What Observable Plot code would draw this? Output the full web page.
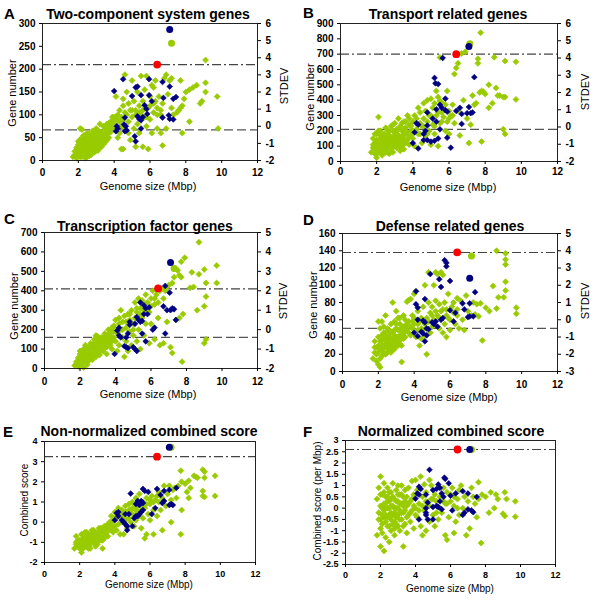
<!DOCTYPE html>
<html><head><meta charset="utf-8">
<script src="https://cdn.jsdelivr.net/npm/d3@7"></script>
<script src="https://cdn.jsdelivr.net/npm/@observablehq/plot@0.6"></script>
<style>
body{margin:0;background:#fff;font-family:"Liberation Sans",Arial,sans-serif}
#root{position:relative;width:600px;height:600px;overflow:hidden;background:#fff}
.t{position:absolute;white-space:nowrap;color:#000;line-height:1}
.title{font-weight:bold;font-size:14px;transform:translate(-50%,-50%)}
.letter{font-weight:bold;font-size:15px;transform:translate(0,-50%)}
.ax{transform:translate(-50%,-50%)}
.axv{transform:translate(-50%,-50%) rotate(-90deg)}
.plot{position:absolute}
</style></head><body><div id="root"></div>
<script>
// ---------- shared ----------
const xTicks = [0, 2, 4, 6, 8, 10, 12];
const xLabel = "Genome size (Mbp)";

// ---------- A: Two-component system genes ----------
const yTicksA = [0, 50, 100, 150, 200, 250, 300];
const stdevA = [-2, -1, 0, 1, 2, 3, 4, 5, 6];
const meanA = 67, thrA = 210;
const redA = [6.4, 210], bigBlueA = [7.1, 287], bigGreenA = [7.2, 257];
const greenA = [[1.7,8],[1.8,12],[1.9,5],[1.9,18],[2.0,10],[2.0,25],[2.1,15],[2.1,30],[2.2,8],[2.2,20],[2.2,38],[2.3,12],[2.3,28],[2.3,45],[2.4,5],[2.4,22],[2.4,35],[2.5,15],[2.5,30],[2.5,48],[2.6,10],[2.6,25],[2.6,40],[2.7,20],[2.7,35],[2.7,55],[2.8,18],[2.8,30],[2.8,45],[2.9,25],[2.9,40],[2.9,60],[3.0,30],[3.0,48],[3.0,70],[3.1,22],[3.1,38],[3.1,55],[3.2,35],[3.2,50],[3.3,30],[3.3,62],[3.4,45],[3.4,75],[3.5,40],[3.5,55],[3.6,60],[3.6,80],[3.7,50],[3.7,70],[3.8,85],[3.8,62],[3.9,75],[3.9,95],[2.1,70],[2.2,68],[2.5,60],[2.0,35],[2.3,55],[2.6,50],[2.8,65],[3.0,40],[3.2,80],[3.3,45],
[1.8,20],[1.9,28],[2.0,15],[2.0,42],[2.1,8],[2.1,22],[2.1,45],[2.2,12],[2.2,30],[2.2,50],[2.3,18],[2.3,35],[2.4,12],[2.4,28],[2.4,42],[2.4,55],[2.5,8],[2.5,22],[2.5,38],[2.6,18],[2.6,32],[2.6,58],[2.7,12],[2.7,28],[2.7,42],[2.8,24],[2.8,38],[2.8,52],[2.9,18],[2.9,32],[2.9,48],[3.0,22],[3.0,36],[3.0,58],[3.1,30],[3.1,46],[3.1,65],[3.2,28],[3.2,42],[3.2,62],[3.3,38],[3.3,52],[3.4,36],[3.4,55],[3.5,48],[3.5,68],[3.6,45],[3.6,70],[3.7,60],[3.7,82],[3.8,72],[3.9,85],[4.0,70],[4.0,95],[4.2,88],[4.3,60],[4.4,75],[4.5,90],[4.6,70],[4.8,85],[5.0,110],[5.2,100],[5.4,105],[5.6,110],[5.8,95],[6.0,120],[6.2,125],[6.4,115],[6.6,100],
[4.0,80],[4.1,90],[4.1,140],[4.2,100],[4.2,50],[4.3,110],[4.3,85],[4.4,25],[4.4,95],[4.5,25],[4.5,120],[4.5,135],[4.6,188],[4.6,105],[4.7,150],[4.7,100],[4.8,125],[4.8,60],[4.9,45],[4.9,110],[5.0,175],[5.0,95],[5.1,130],[5.1,70],[5.2,30],[5.2,110],[5.3,150],[5.3,80],[5.4,120],[5.4,60],[5.5,185],[5.5,100],[5.6,30],[5.6,130],[5.7,95],[5.7,155],[5.8,185],[5.8,75],[5.9,25],[5.9,115],[6.0,140],[6.0,90],[6.1,165],[6.1,60],[6.2,105],[6.2,160],[6.3,175],[6.3,130],[6.4,100],[6.4,70],[6.5,140],[6.6,110],[6.6,60],[6.7,33],[6.7,125],[6.8,180],[6.9,188],[6.9,70],[7.0,145],[7.1,175],[7.2,180],[7.2,115],[7.3,100],
[7.5,105],[7.6,110],[7.7,115],[7.7,175],[7.8,120],[7.8,60],[7.9,135],[8.0,150],[8.2,155],[8.2,85],[8.4,160],[8.6,165],[8.8,125],[8.9,130],[9.1,150],[9.1,170],[9.1,220],[9.75,140],[9.8,70]];
const blueA = [[4.0,152],[4.5,178],[5.2,160],[5.3,162],[5.0,141],[5.5,143],[5.95,178],[5.95,143],[6.1,130],[6.7,172],[7.1,162],[7.3,135],[7.45,139],[6.75,137],[6.7,94],[7.05,99],[7.1,91],[7.3,90],[5.7,121],[5.8,113],[5.3,97],[5.4,91],[5.6,95],[5.5,88],[5.85,102],[4.15,75],[4.1,64],[4.55,79],[4.65,75],[4.7,66],[4.6,64],[5.15,53],[5.2,42],[5.5,70],[4.2,70],[4.6,94]];

// ---------- B: Transport related genes ----------
const yTicksB = [0, 100, 200, 300, 400, 500, 600, 700, 800, 900];
const stdevB = [-2, -1, 0, 1, 2, 3, 4, 5, 6];
const meanB = 210, thrB = 700;
const redB = [6.4, 700], bigBlueB = [7.1, 750], bigGreenB = [7.15, 768];
const greenB = [[1.7,60],[1.8,90],[1.8,150],[1.9,50],[1.9,120],[2.0,25],[2.0,80],[2.0,180],[2.1,290],[2.1,110],[2.1,60],[2.2,140],[2.2,200],[2.2,90],[2.3,40],[2.3,120],[2.3,170],[2.4,70],[2.4,100],[2.4,150],[2.5,60],[2.5,130],[2.5,220],[2.6,90],[2.6,110],[2.6,170],[2.7,50],[2.7,140],[2.7,200],[2.8,80],[2.8,120],[2.8,230],[2.9,100],[2.9,160],[2.9,60],[3.0,130],[3.0,190],[3.0,250],[3.1,90],[3.1,150],[3.1,210],[3.2,110],[3.2,280],[3.2,170],[3.3,70],[3.3,130],[3.3,230],[3.4,100],[3.4,200],[3.4,160],[3.5,120],[3.5,260],[3.5,80],[3.6,180],[3.6,220],[3.7,140],[3.7,300],[3.8,110],[3.8,240],[3.9,170],[3.9,200],[2.0,140],[2.3,80],[2.6,140],[2.9,200],[3.2,140],[3.5,180],
[1.8,110],[1.9,80],[1.9,180],[2.0,110],[2.0,50],[2.1,140],[2.1,200],[2.2,60],[2.2,110],[2.2,170],[2.3,100],[2.3,140],[2.4,120],[2.4,180],[2.4,60],[2.5,90],[2.5,160],[2.6,60],[2.6,200],[2.7,100],[2.7,170],[2.8,150],[2.8,100],[2.9,130],[2.9,240],[3.0,100],[3.0,160],[3.1,120],[3.1,180],[3.2,140],[3.2,210],[3.3,160],[3.3,100],[3.4,130],[3.4,250],[3.5,150],[3.5,210],[3.6,120],[3.6,260],[3.7,190],[3.8,160],[3.8,280],[3.9,230],[4.0,200],[4.2,280],[4.4,180],[4.6,230],[4.8,180],[5.0,300],[5.2,230],[5.4,320],[5.6,260],[5.8,370],[6.0,280],[6.2,300],
[4.0,260],[4.0,150],[4.1,300],[4.1,100],[4.2,210],[4.3,350],[4.3,180],[4.4,320],[4.4,250],[4.5,230],[4.5,120],[4.6,380],[4.6,280],[4.7,170],[4.7,330],[4.8,400],[4.8,260],[4.9,200],[4.9,300],[5.0,410],[5.0,110],[5.1,350],[5.1,240],[5.2,380],[5.2,180],[5.3,460],[5.3,300],[5.4,420],[5.4,100],[5.5,395],[5.5,250],[5.5,678],[5.6,385],[5.6,320],[5.7,290],[5.8,200],[5.9,460],[5.9,260],[6.0,330],[6.0,180],[6.1,300],[6.2,370],[6.3,570],[6.3,250],[6.4,610],[6.5,640],[6.5,330],[6.6,170],[6.7,705],[6.8,400],[6.9,715],[7.0,280],[7.1,120],[7.2,240],[7.3,430],[7.4,370],[7.5,380],[7.6,670],[7.6,640],[7.7,450],[7.75,840],[7.8,460],[7.8,130],[7.9,455],[8.0,440],[8.2,500],[8.2,350],[8.4,380],[8.5,680],[8.6,480],[8.7,430],[8.8,430],[9.0,420],[9.0,210],[9.1,420],[9.1,655],[9.1,180],[9.7,650],[9.7,405]];
const blueB = [[5.65,675],[5.2,545],[5.25,510],[5.4,505],[7.4,550],[5.8,410],[5.3,340],[5.5,370],[5.6,350],[5.8,335],[5.9,325],[6.6,350],[7.1,355],[7.0,315],[7.2,315],[7.3,320],[6.4,330],[6.7,310],[6.7,245],[4.2,250],[4.3,240],[4.1,190],[4.6,180],[4.7,200],[4.8,235],[5.1,280],[4.8,320],[5.9,155],[6.1,90],[4.3,85],[4.0,120],[4.6,140],[4.8,140],[5.0,130],[5.2,135],[5.4,150],[5.3,260],[5.5,210]];

// ---------- C: Transcription factor genes ----------
const yTicksC = [0, 100, 200, 300, 400, 500, 600, 700];
const stdevC = [-2, -1, 0, 1, 2, 3, 4, 5];
const meanC = 160, thrC = 410;
const redC = [6.4, 412], bigBlueC = [7.1, 545], bigGreenC = [7.3, 515];
const greenC = [[1.7,15],[1.8,25],[1.9,40],[1.9,10],[2.0,60],[2.0,30],[2.0,90],[2.1,20],[2.1,50],[2.1,75],[2.2,40],[2.2,100],[2.2,5],[2.3,30],[2.3,65],[2.3,120],[2.4,50],[2.4,85],[2.4,20],[2.5,70],[2.5,110],[2.5,40],[2.6,60],[2.6,95],[2.6,130],[2.7,45],[2.7,80],[2.7,120],[2.8,70],[2.8,105],[2.8,150],[2.9,60],[2.9,95],[2.9,170],[3.0,80],[3.0,130],[3.0,165],[3.1,100],[3.1,145],[3.1,70],[3.2,120],[3.2,160],[3.3,90],[3.3,140],[3.4,110],[3.4,180],[3.5,130],[3.5,75],[3.6,150],[3.6,200],[3.7,120],[3.7,170],[3.8,190],[3.8,100],[3.9,160],[3.9,220],[2.2,70],[2.5,90],[2.8,120],[3.1,120],[3.3,110],
[1.8,35],[1.9,55],[2.0,45],[2.0,75],[2.1,35],[2.1,60],[2.2,55],[2.2,85],[2.3,45],[2.3,80],[2.4,70],[2.4,100],[2.5,55],[2.5,85],[2.6,75],[2.6,110],[2.7,65],[2.7,100],[2.8,85],[2.8,130],[2.9,80],[2.9,120],[3.0,100],[3.0,145],[3.1,85],[3.1,130],[3.2,105],[3.2,140],[3.3,120],[3.3,160],[3.4,130],[3.4,150],[3.5,110],[3.5,160],[3.6,130],[3.6,175],[3.7,150],[3.8,140],[3.8,210],[3.9,190],[4.0,200],[4.2,230],[4.4,200],[4.6,240],[4.8,280],[5.0,200],[5.2,310],[5.4,280],[5.6,330],[5.8,300],[6.0,320],[6.2,360],[6.4,340],
[4.0,140],[4.0,250],[4.1,90],[4.1,180],[4.2,260],[4.2,120],[4.3,200],[4.3,300],[4.4,160],[4.4,240],[4.5,270],[4.5,60],[4.6,210],[4.6,140],[4.7,280],[4.7,90],[4.8,250],[4.8,190],[4.9,300],[4.9,120],[5.0,230],[5.0,170],[5.1,340],[5.1,260],[5.2,290],[5.2,140],[5.3,360],[5.3,200],[5.4,310],[5.4,100],[5.5,260],[5.5,350],[5.6,300],[5.6,170],[5.7,380],[5.7,230],[5.8,340],[5.9,290],[5.9,130],[6.0,360],[6.0,230],[6.1,400],[6.2,330],[6.2,150],[6.3,380],[6.4,260],[6.5,400],[6.5,120],[6.6,410],[6.7,130],[6.7,360],[6.8,400],[6.9,240],[6.9,420],[7.0,430],[7.1,110],[7.2,80],[7.2,440],[7.4,515],[7.3,470],[7.4,250],[7.5,505],[7.6,480],[7.6,260],[7.7,550],[7.7,470],[7.75,35],[7.8,280],[7.9,570],[8.2,415],[8.3,495],[8.4,420],[8.6,300],[8.7,650],[8.7,485],[9.0,510],[9.0,320],[9.0,130],[9.1,440],[9.1,370],[9.1,150],[9.7,530],[9.7,440]];
const blueC = [[6.8,425],[7.05,390],[6.7,320],[6.9,300],[7.1,300],[7.2,310],[7.3,305],[7.4,250],[6.8,180],[6.2,210],[5.4,340],[5.6,325],[5.7,310],[5.9,315],[5.6,280],[5.8,280],[6.1,200],[5.2,265],[5.3,250],[5.4,240],[5.5,245],[5.1,230],[4.8,240],[4.8,225],[4.2,210],[4.1,195],[4.2,170],[4.3,160],[4.7,180],[4.6,160],[4.5,115],[4.6,110],[4.7,105],[5.0,110],[5.1,100],[5.2,90],[5.5,180],[5.7,140],[3.95,75]];

// ---------- D: Defense related genes ----------
const yTicksD = [0, 20, 40, 60, 80, 100, 120, 140, 160];
const stdevD = [-3, -2, -1, 0, 1, 2, 3, 4, 5];
const meanD = 50, thrD = 138;
const redD = [6.4, 138], bigBlueD = [7.1, 108], bigGreenD = [7.2, 134];
const greenD = [[1.7,15],[1.8,22],[1.8,35],[1.9,28],[1.9,12],[2.0,8],[2.0,40],[2.0,58],[2.1,5],[2.1,25],[2.1,50],[2.2,30],[2.2,58],[2.2,18],[2.3,38],[2.3,22],[2.3,45],[2.4,32],[2.4,65],[2.4,20],[2.5,28],[2.5,42],[2.5,35],[2.6,25],[2.6,48],[2.6,32],[2.7,38],[2.7,22],[2.7,55],[2.8,30],[2.8,45],[2.8,80],[2.9,58],[2.9,35],[2.9,26],[3.0,40],[3.0,70],[3.0,30],[3.1,48],[3.1,62],[3.1,35],[3.2,42],[3.2,55],[3.3,11],[3.3,38],[3.3,50],[3.4,45],[3.4,65],[3.5,40],[3.5,52],[3.6,81],[3.6,48],[3.7,83],[3.7,58],[3.8,84],[3.8,42],[3.9,50],[3.9,65],[2.2,36],[2.4,28],[2.6,38],[2.8,35],[3.0,50],[3.2,32],
[1.8,28],[1.9,20],[2.0,30],[2.0,22],[2.1,35],[2.1,15],[2.2,25],[2.2,42],[2.3,30],[2.3,52],[2.4,38],[2.4,45],[2.5,22],[2.5,50],[2.6,40],[2.6,28],[2.7,30],[2.7,45],[2.8,38],[2.8,25],[2.9,42],[2.9,48],[3.0,35],[3.0,55],[3.1,40],[3.1,30],[3.2,48],[3.2,62],[3.3,42],[3.3,30],[3.4,38],[3.4,52],[3.5,46],[3.5,60],[3.6,55],[3.7,45],[3.8,52],[3.9,58],[4.0,62],[4.2,55],[4.4,50],[4.6,42],[4.8,58],[5.0,65],[5.2,70],[5.4,62],[5.6,72],[5.8,65],[6.0,60],[6.2,68],[6.4,72],
[4.0,90],[4.0,55],[4.1,93],[4.1,40],[4.2,70],[4.2,48],[4.3,58],[4.3,30],[4.4,62],[4.4,38],[4.5,75],[4.5,48],[4.6,100],[4.6,55],[4.7,20],[4.7,62],[4.8,115],[4.8,80],[4.9,45],[4.9,68],[5.0,75],[5.0,52],[5.1,100],[5.1,60],[5.2,115],[5.2,82],[5.3,113],[5.3,65],[5.4,50],[5.4,78],[5.5,115],[5.5,70],[5.6,112],[5.6,45],[5.7,80],[5.7,55],[5.8,40],[5.8,72],[5.9,62],[5.9,90],[6.0,48],[6.1,75],[6.2,80],[6.3,55],[6.4,65],[6.4,85],[6.5,50],[6.6,82],[6.7,60],[6.8,48],[6.9,88],[7.0,70],[7.2,65],[7.3,80],[7.4,66],[7.5,78],[7.6,64],[7.7,79],[7.8,36],[8.0,74],[8.2,70],[8.4,99],[8.6,140],[8.6,73],[8.7,86],[9.0,86],[9.1,137],[9.1,130],[9.1,124],[9.1,104],[9.1,94],[9.7,74],[9.7,67]];
const blueD = [[5.7,129],[5.8,126],[5.8,122],[4.9,113],[5.4,107],[6.0,105],[5.5,98],[4.1,93],[4.6,84],[7.4,92],[4.1,78],[4.2,74],[4.2,60],[4.4,46],[4.0,45],[4.2,41],[4.5,44],[4.6,35],[4.7,42],[4.5,59],[4.6,57],[4.7,50],[4.8,49],[5.0,57],[5.1,55],[5.2,58],[5.3,52],[5.5,60],[5.6,62],[6.0,71],[6.3,68],[6.7,79],[6.8,72],[7.1,79],[7.0,63],[7.1,64],[7.3,64],[6.2,58]];

// ---------- E: Non-normalized combined score ----------
const yTicksE = [-2, -1, 0, 1, 2, 3, 4];
const thrE = 3.25;
const redE = [6.4, 3.25], bigBlueE = [7.1, 3.72], bigGreenE = [7.2, 3.72];
const greenE = [[1.7,-1.3],[1.8,-1.0],[1.8,-0.7],[1.9,-1.2],[2.0,-1.3],[2.0,-0.9],[2.1,-1.5],[2.1,-0.6],[2.2,-1.1],[2.2,-0.8],[2.3,-1.2],[2.3,-0.5],[2.4,-1.0],[2.4,-0.7],[2.5,-1.3],[2.5,-0.9],[2.6,-0.6],[2.6,-1.1],[2.7,-0.8],[2.7,-0.4],[2.8,-1.0],[2.8,-0.6],[2.9,-0.8],[2.9,-1.2],[3.0,-0.5],[3.0,-0.9],[3.1,-0.7],[3.1,-0.3],[3.2,-0.9],[3.2,-0.5],[3.3,-1.3],[3.3,-0.6],[3.4,-0.4],[3.4,-0.8],[3.5,-0.2],[3.5,-0.6],[3.6,-0.1],[3.6,-0.7],[3.7,-0.4],[3.7,0.0],[3.8,0.3],[3.8,-0.3],[3.9,-0.5],[3.9,0.1],[2.2,-1.0],[2.4,-0.9],[2.6,-0.9],[2.8,-0.8],[3.0,-0.7],
[1.8,-1.1],[1.9,-0.9],[2.0,-1.1],[2.1,-1.2],[2.1,-0.9],[2.2,-1.3],[2.3,-1.0],[2.3,-0.8],[2.4,-1.2],[2.4,-0.5],[2.5,-1.1],[2.5,-0.7],[2.6,-0.8],[2.6,-1.3],[2.7,-1.0],[2.7,-0.6],[2.8,-0.9],[2.8,-0.4],[2.9,-0.6],[2.9,-1.0],[3.0,-0.8],[3.0,-1.1],[3.1,-0.5],[3.1,-0.9],[3.2,-0.7],[3.2,-0.3],[3.3,-0.9],[3.3,-0.4],[3.4,-0.6],[3.4,-0.2],[3.5,-0.4],[3.6,-0.4],[3.7,-0.2],[3.8,0.0],[3.9,-0.2],[4.0,0.2],[4.2,0.3],[4.4,0.3],[4.6,0.5],[4.8,0.6],[5.0,0.7],[5.2,0.6],[5.4,0.9],[5.6,0.8],[5.8,0.9],[6.0,1.1],[6.2,1.0],[6.4,1.3],
[4.0,0.5],[4.0,-0.2],[4.1,0.2],[4.1,-0.4],[4.2,0.7],[4.2,-0.1],[4.3,-0.6],[4.3,0.4],[4.4,0.0],[4.4,0.6],[4.5,-0.6],[4.5,0.3],[4.6,0.8],[4.6,0.1],[4.7,-0.3],[4.7,0.5],[4.8,0.9],[4.8,0.2],[4.9,0.0],[4.9,0.6],[5.0,1.0],[5.0,0.4],[5.1,-0.2],[5.1,0.7],[5.2,1.2],[5.2,0.1],[5.3,0.5],[5.3,0.8],[5.4,1.4],[5.4,0.3],[5.5,0.6],[5.5,-0.3],[5.6,1.0],[5.6,0.2],[5.7,-0.8],[5.7,0.7],[5.8,-0.6],[5.8,1.2],[5.9,0.4],[6.0,0.9],[6.0,0.1],[6.1,1.3],[6.2,-0.6],[6.2,0.6],[6.3,1.1],[6.4,0.3],[6.5,1.0],[6.5,1.5],[6.6,0.6],[6.7,-0.4],[6.7,1.2],[6.8,1.8],[6.9,0.8],[7.0,1.4],[7.1,1.8],[7.2,0.0],[7.2,1.1],[7.3,1.6],[7.4,1.7],[7.5,1.2],[7.6,1.8],[7.75,2.55],[7.75,-0.6],[7.8,0.6],[7.8,2.0],[8.0,1.9],[8.1,1.5],[8.2,2.05],[8.2,1.2],[8.3,1.7],[8.5,2.3],[8.6,2.25],[8.7,2.2],[9.0,2.6],[9.0,1.55],[9.0,1.3],[9.1,2.5],[9.1,2.2],[9.1,1.25],[9.7,2.3],[9.7,1.3]];
const blueE = [[4.9,1.42],[5.6,1.65],[5.7,1.55],[5.9,1.5],[6.4,1.65],[6.8,1.55],[7.1,1.6],[7.5,1.7],[6.6,1.35],[5.3,1.05],[5.5,1.05],[5.6,0.95],[5.4,0.85],[5.2,0.9],[6.7,0.95],[6.8,1.05],[7.1,0.85],[7.2,0.9],[7.3,0.85],[5.6,0.6],[5.5,0.5],[5.4,0.4],[4.2,0.5],[4.1,0.45],[4.0,0.1],[4.2,0.3],[4.4,0.1],[4.6,0.4],[4.5,0.0],[4.6,-0.1],[4.7,-0.2],[4.8,0.4],[5.0,-0.2],[5.1,0.2],[5.2,0.3],[5.3,0.3],[4.7,-0.4],[6.1,0.4],[6.3,0.7]];

// ---------- F: Normalized combined score ----------
const yTicksF = [-2.5, -2, -1.5, -1, -0.5, 0, 0.5, 1, 1.5, 2, 2.5, 3];
const thrF = 2.6;
const redF = [6.4, 2.6], bigBlueF = [7.1, 2.6], bigGreenF = [7.2, 2.6];
const greenF = [[1.8,-1.2],[1.8,0.4],[1.9,-0.5],[1.9,0.9],[2.0,-1.7],[2.0,1.4],[2.0,0.1],[2.0,-0.9],[2.1,0.6],[2.1,-0.3],[2.1,-1.1],[2.2,-1.9],[2.2,1.1],[2.2,0.2],[2.3,-0.6],[2.3,0.5],[2.3,-1.3],[2.4,0.0],[2.4,0.9],[2.4,-0.8],[2.5,-0.3],[2.5,0.3],[2.5,-1.5],[2.6,0.7],[2.6,-0.5],[2.6,-1.0],[2.7,0.1],[2.7,1.1],[2.7,-0.7],[2.8,-0.2],[2.8,0.4],[2.8,-1.2],[2.9,0.8],[2.9,-0.4],[2.9,0.0],[3.0,1.0],[3.0,-0.8],[3.0,0.3],[3.1,-0.1],[3.1,0.6],[3.1,-1.0],[3.2,1.0],[3.2,-0.5],[3.2,0.2],[3.3,-1.7],[3.3,0.5],[3.3,-0.2],[3.4,0.8],[3.4,-0.7],[3.5,0.1],[3.5,-1.1],[3.5,0.5],[3.6,-0.3],[3.6,0.9],[3.7,0.3],[3.7,-0.6],[3.8,1.2],[3.8,-0.1],[3.9,0.6],[3.9,-0.9],[2.2,-0.4],[2.4,0.5],[2.6,0.1],[2.8,-0.6],[3.0,-0.3],[3.4,0.3],
[1.9,-0.2],[2.0,-0.5],[2.0,0.6],[2.1,0.0],[2.1,-0.7],[2.2,-0.1],[2.2,0.7],[2.3,0.1],[2.3,-0.3],[2.4,-0.4],[2.4,0.3],[2.5,0.0],[2.5,-0.8],[2.5,0.7],[2.6,-0.2],[2.6,0.4],[2.7,-0.3],[2.7,0.5],[2.8,0.0],[2.8,-0.9],[2.9,0.3],[2.9,-0.7],[3.0,0.0],[3.0,0.6],[3.1,0.2],[3.1,-0.5],[3.2,-0.2],[3.2,0.6],[3.3,0.1],[3.3,-0.8],[3.4,-0.1],[3.5,-0.4],[3.6,0.2],[3.7,-0.2],[3.8,0.4],[3.9,0.1],[4.0,-0.3],[4.2,-0.1],[4.4,0.1],[4.6,0.3],[4.8,0.1],[5.0,0.4],[5.2,-0.2],[5.4,0.0],[5.6,0.3],[5.8,0.2],[6.0,0.6],[6.2,0.5],[6.4,0.0],
[4.0,1.25],[4.0,0.0],[4.1,-0.4],[4.1,0.8],[4.2,0.2],[4.3,1.4],[4.3,-0.8],[4.4,-1.2],[4.4,0.5],[4.5,1.05],[4.5,-0.1],[4.6,-1.0],[4.6,0.7],[4.7,0.2],[4.8,1.25],[4.8,-0.6],[4.9,1.0],[4.9,0.4],[5.0,-0.3],[5.1,0.6],[5.1,-0.8],[5.2,0.3],[5.3,-0.5],[5.4,0.5],[5.5,-0.2],[5.6,0.9],[5.7,-1.2],[5.7,0.2],[5.8,-1.4],[5.8,0.7],[5.9,-0.4],[6.0,0.3],[6.1,0.9],[6.2,-1.1],[6.2,0.1],[6.3,-0.6],[6.4,0.4],[6.5,0.8],[6.5,-0.3],[6.6,1.0],[6.7,0.0],[6.8,0.5],[6.9,-1.2],[7.0,0.3],[7.1,-0.9],[7.2,0.9],[7.3,0.5],[7.4,0.2],[7.5,-0.4],[7.6,1.15],[7.6,0.4],[7.75,-1.55],[7.8,0.6],[8.0,0.5],[8.2,-0.2],[8.3,0.7],[8.5,0.0],[8.6,0.6],[8.7,0.4],[9.0,-0.25],[9.1,0.7],[9.1,-0.35],[9.2,0.4],[9.7,0.3],[9.7,-0.38]];
const blueF = [[4.8,1.7],[5.65,1.35],[5.7,1.3],[5.9,1.1],[5.3,1.05],[5.4,0.9],[5.2,0.85],[5.0,0.8],[4.2,0.95],[4.3,0.85],[4.1,0.65],[4.2,0.6],[4.0,0.42],[4.6,0.6],[5.5,0.65],[5.6,0.5],[6.0,0.55],[6.3,0.65],[6.7,0.75],[7.0,0.65],[7.5,0.5],[5.4,0.3],[4.7,0.25],[4.6,0.0],[4.6,-0.2],[4.6,-0.3],[4.7,-0.5],[5.0,-0.5],[4.2,-0.5],[5.0,0.05],[5.2,0.1],[5.3,0.05],[6.1,-0.1],[6.7,-0.3],[6.8,-0.2],[7.0,-0.05],[7.2,-0.1],[7.3,-0.18],[5.5,-0.05]];

// ---------- panels (data) ----------
const panels = [
  {key:"A", title:"Two-component system genes", yLabel:"Gene number", green:greenA, blue:blueA, red:redA, bigBlue:bigBlueA, bigGreen:bigGreenA, yTicks:yTicksA, stdev:stdevA, mean:meanA, thr:thrA},
  {key:"B", title:"Transport related genes", yLabel:"Gene number", green:greenB, blue:blueB, red:redB, bigBlue:bigBlueB, bigGreen:bigGreenB, yTicks:yTicksB, stdev:stdevB, mean:meanB, thr:thrB},
  {key:"C", title:"Transcription factor genes", yLabel:"Gene number", green:greenC, blue:blueC, red:redC, bigBlue:bigBlueC, bigGreen:bigGreenC, yTicks:yTicksC, stdev:stdevC, mean:meanC, thr:thrC},
  {key:"D", title:"Defense related genes", yLabel:"Gene number", green:greenD, blue:blueD, red:redD, bigBlue:bigBlueD, bigGreen:bigGreenD, yTicks:yTicksD, stdev:stdevD, mean:meanD, thr:thrD},
  {key:"E", title:"Non-normalized combined score", yLabel:"Combined score", green:greenE, blue:blueE, red:redE, bigBlue:bigBlueE, bigGreen:bigGreenE, yTicks:yTicksE, stdev:null, mean:null, thr:thrE},
  {key:"F", title:"Normalized combined score", yLabel:"Combined score (per Mbp)", green:greenF, blue:blueF, red:redF, bigBlue:bigBlueF, bigGreen:bigGreenF, yTicks:yTicksF, stdev:null, mean:null, thr:thrF}
];

// ---------- layout (positions / styles) ----------
const layout = {
  A:{left:0,top:0,w:300,h:200,ml:42,mr:43,mt:23,mb:40,tick:10,xPad:5,lab:11,title:[148,14],letter:[4,13],yLab:[12,93],rLab:[284,86],xLab:[148,186]},
  B:{left:300,top:0,w:300,h:200,ml:40,mr:43,mt:23,mb:39,tick:10,xPad:3,lab:11,title:[448,14],letter:[303,12],yLab:[310,97],rLab:[585,92],xLab:[448,187]},
  C:{left:0,top:200,w:300,h:200,ml:44,mr:43,mt:32,mb:32,tick:10,xPad:6,lab:11,title:[145,226],letter:[4,218],yLab:[14,306],rLab:[283,301],xLab:[148,394]},
  D:{left:300,top:200,w:300,h:200,ml:42,mr:43,mt:33,mb:29,tick:10,xPad:6,lab:11,title:[450,226],letter:[303,219],yLab:[313,305],rLab:[585,301],xLab:[449,397]},
  E:{left:0,top:400,w:300,h:200,ml:44,mr:45,mt:41,mb:38,tick:9,xPad:5,lab:10,title:[149,431],letter:[3,431],yLab:[25,500],rLab:null,xLab:[149,585]},
  F:{left:300,top:400,w:300,h:200,ml:45,mr:45,mt:40,mb:36,tick:9,xPad:4,lab:10,title:[451,431],letter:[303,431],yLab:[318,501],rLab:null,xLab:[450,589]}
};

const GREEN = "#99cc00", BLUE = "#000080", RED = "#ff0000";
const root = document.getElementById("root");
const fmt = v => String(+v.toFixed(2));

function addText(cls, txt, x, y, size){
  const d = document.createElement("div");
  d.className = "t " + cls;
  d.textContent = txt;
  d.style.left = x + "px"; d.style.top = y + "px";
  if (size) d.style.fontSize = size + "px";
  root.appendChild(d);
}

for (const p of panels) {
  const L = layout[p.key];
  const y0 = p.yTicks[0], y1 = p.yTicks[p.yTicks.length - 1];
  const marks = [];
  if (p.mean != null) marks.push(Plot.ruleY([p.mean], {stroke:"#555", strokeWidth:1.2, strokeDasharray:"9,4"}));
  marks.push(Plot.ruleY([p.thr], {stroke:"#444", strokeWidth:1.2, strokeDasharray:"9,3,2,3"}));
  marks.push(Plot.dot(p.green, {x:d=>d[0], y:d=>d[1], symbol:"diamond2", r:2.7, fill:GREEN, stroke:GREEN, strokeWidth:0.7}));
  marks.push(Plot.dot(p.blue, {x:d=>d[0], y:d=>d[1], symbol:"diamond2", r:2.6, fill:BLUE, stroke:BLUE, strokeWidth:0.6}));
  marks.push(Plot.dot([p.bigGreen], {x:d=>d[0], y:d=>d[1], r:3.5, fill:GREEN}));
  marks.push(Plot.dot([p.bigBlue], {x:d=>d[0], y:d=>d[1], r:3.5, fill:BLUE}));
  marks.push(Plot.dot([p.red], {x:d=>d[0], y:d=>d[1], r:3.9, fill:RED}));
  marks.push(Plot.frame({stroke:"#222", strokeWidth:1}));
  marks.push(Plot.axisX({ticks:xTicks, tickFormat:fmt, tickSize:3, tickPadding:L.xPad, label:null}));
  marks.push(Plot.axisY({ticks:p.yTicks, tickFormat:fmt, tickSize:3, tickPadding:4, label:null}));
  if (p.stdev) {
    const s0 = p.stdev[0], s1 = p.stdev[p.stdev.length - 1];
    const toY = s => y0 + (s - s0) / (s1 - s0) * (y1 - y0);
    const toS = g => s0 + (g - y0) / (y1 - y0) * (s1 - s0);
    marks.push(Plot.axisY({anchor:"right", ticks:p.stdev.map(toY), tickFormat:g => fmt(Math.round(toS(g) * 100) / 100), tickSize:3, tickPadding:5, label:null}));
  }
  const svg = Plot.plot({
    width:L.w, height:L.h,
    marginLeft:L.ml, marginRight:L.mr, marginTop:L.mt, marginBottom:L.mb,
    x:{domain:[0,12], axis:null},
    y:{domain:[y0,y1], axis:null},
    style:{fontFamily:'"Liberation Sans", Arial, sans-serif', fontSize:L.tick+"px", fontWeight:"bold", color:"#000", background:"transparent", overflow:"visible"},
    marks
  });
  svg.classList.add("plot");
  svg.style.left = L.left + "px"; svg.style.top = L.top + "px";
  root.appendChild(svg);

  addText("title", p.title, L.title[0], L.title[1]);
  addText("letter", p.key, L.letter[0], L.letter[1]);
  addText("axv", p.yLabel, L.yLab[0], L.yLab[1], L.lab);
  if (L.rLab) addText("axv", "STDEV", L.rLab[0], L.rLab[1], L.lab);
  addText("ax", xLabel, L.xLab[0], L.xLab[1], L.lab);
}
</script></body></html>
